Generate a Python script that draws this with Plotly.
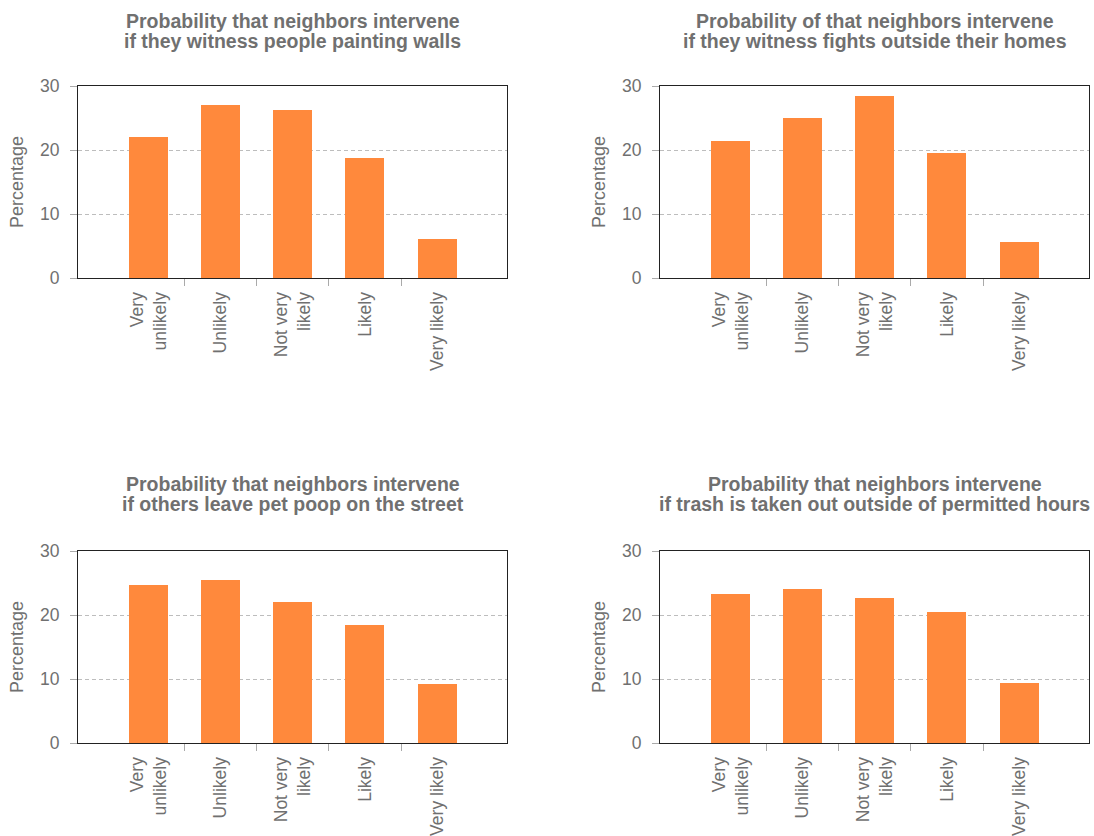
import plotly.graph_objects as go

categories = ["Very<br>unlikely", "Unlikely", "Not very<br>likely", "Likely", "Very likely"]

titles = [
    ["Probability that neighbors intervene", "if they witness people painting walls"],
    ["Probability of that neighbors intervene", "if they witness fights outside their homes"],
    ["Probability that neighbors intervene", "if others leave pet poop on the street"],
    ["Probability that neighbors intervene", "if trash is taken out outside of permitted hours"],
]

painting_walls = [22.0, 27.0, 26.2, 18.7, 6.1]
fights = [21.4, 25.0, 28.5, 19.55, 5.65]
pet_poop = [24.7, 25.4, 22.1, 18.5, 9.25]
trash = [23.3, 24.1, 22.7, 20.5, 9.3]

series = [painting_walls, fights, pet_poop, trash]

W, H = 1094, 836
BAR = "#FF893C"
GRAY = "#707070"
FONT = "Liberation Sans, Arial, Helvetica, sans-serif"

# panel pixel boxes: (left, right, top, bottom)
boxes = [(78, 507, 86, 278), (660, 1089, 86, 278), (78, 507, 551, 743), (660, 1089, 551, 743)]
title_line_y = [(21, 41), (21, 41), (483.5, 503.5), (483.5, 503.5)]

fig = go.Figure()
xs = list(range(len(categories)))
annotations = []
for i, (vals, box) in enumerate(zip(series, boxes)):
    n = i + 1
    l, r, t, b = box
    xd = [l / W, r / W]
    yd = [1 - b / H, 1 - t / H]
    xa = "x" if n == 1 else f"x{n}"
    ya = "y" if n == 1 else f"y{n}"
    fig.add_trace(go.Bar(x=xs, y=vals, marker=dict(color=BAR, line=dict(width=0)),
                         width=0.54, xaxis=xa, yaxis=ya, showlegend=False))
    xkey = "xaxis" if n == 1 else f"xaxis{n}"
    ykey = "yaxis" if n == 1 else f"yaxis{n}"
    fig.layout[xkey] = dict(
        domain=xd, anchor=ya, range=[-0.98, 4.97], tickmode="array", tickvals=xs,
        ticktext=categories, tickangle=-90, ticks="", showgrid=False, zeroline=False,
        showline=True, linecolor="#222", linewidth=1.2, mirror=True,
        tickfont=dict(family=FONT, size=17.5, color=GRAY), ticklabelstandoff=6,
        minor=dict(tickmode="array", tickvals=[0.5, 1.5, 2.5, 3.5], ticks="outside",
                   ticklen=7, tickcolor="#aaa", tickwidth=1, showgrid=False),
    )
    fig.layout[ykey] = dict(
        domain=yd, anchor=xa, range=[0, 30], tickvals=[0, 10, 20, 30],
        ticks="outside", ticklen=7, tickcolor="#aaa", showgrid=True,
        gridcolor="#bdbdbd", griddash="4px,3px", gridwidth=1, zeroline=False,
        showline=True, linecolor="#222", linewidth=1.2, mirror=True,
        tickfont=dict(family=FONT, size=17.5, color=GRAY), ticklabelstandoff=7,
    )
    for line_text, ly in zip(titles[i], title_line_y[i]):
        annotations.append(dict(
            text="<b>" + line_text + "</b>", xref="paper", yref="paper",
            x=(xd[0] + xd[1]) / 2, y=1 - ly / H, xanchor="center", yanchor="middle",
            showarrow=False, font=dict(family=FONT, size=19.5, color=GRAY),
        ))
    annotations.append(dict(
        text="Percentage", xref="paper", yref="paper",
        x=(l - 61) / W, y=(yd[0] + yd[1]) / 2, xanchor="center", yanchor="middle",
        textangle=-90, showarrow=False, font=dict(family=FONT, size=18, color=GRAY),
    ))

fig.update_layout(
    width=W, height=H, margin=dict(l=0, r=0, t=0, b=0, autoexpand=False),
    paper_bgcolor="white", plot_bgcolor="white",
    annotations=annotations, bargap=0,
)
fig.write_html("out.html", config={"displayModeBar": False},
               post_script="document.body.style.margin='0';document.body.style.overflow='hidden';")
